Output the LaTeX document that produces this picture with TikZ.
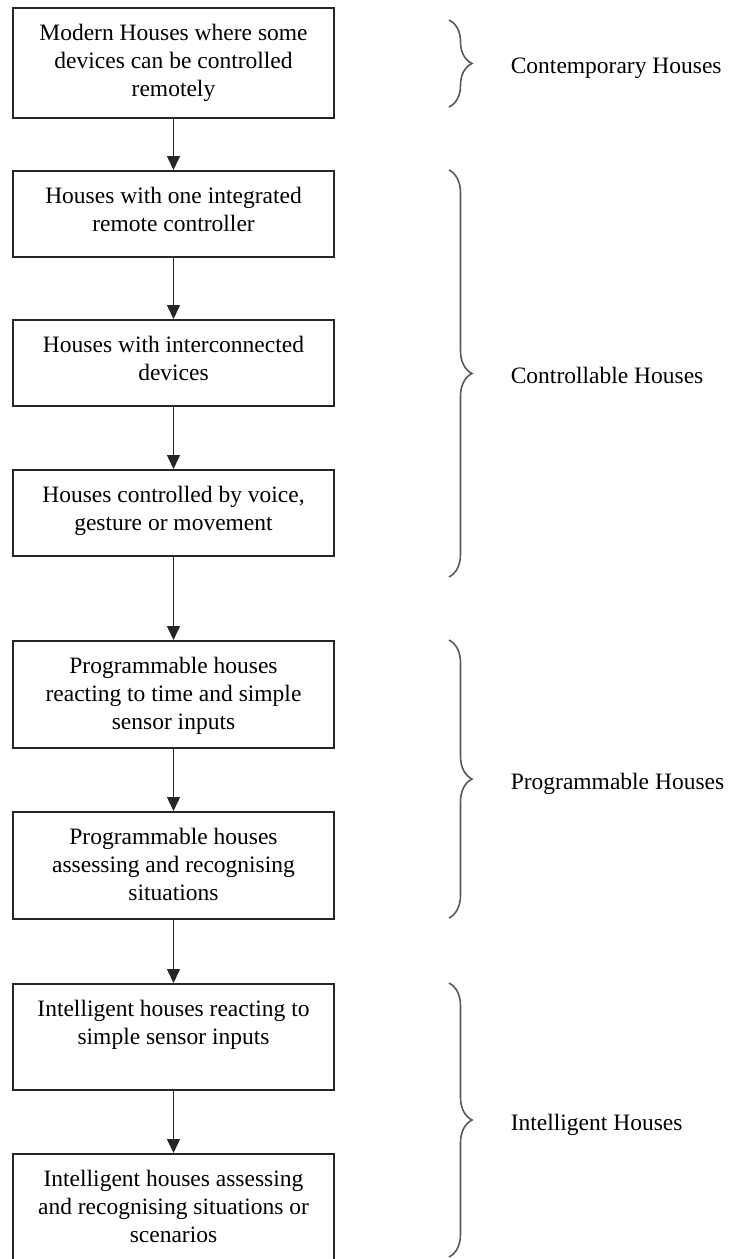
\documentclass[tikz,border=0pt]{standalone}
\usepackage{fontspec}
\setmainfont{Liberation Serif}
\usetikzlibrary{arrows.meta,decorations.pathreplacing}
\newcommand{\stagetext}[2]{\parbox[c][#1][t]{321pt}{\centering\vspace*{16.5pt}#2}}

\begin{document}
\begin{tikzpicture}[x=1pt,y=-1pt,
    stage/.style={rectangle, draw=black!85, line width=1.6pt, inner sep=0pt,
      anchor=north, font=\fontsize{23.5pt}{28pt}\selectfont},
    flow/.style={-{Triangle[length=14pt,width=13pt]}, line width=1.4pt, draw=black!85},
    grpbrace/.style={decorate, decoration={brace, amplitude=23pt},
      line width=1.6pt, draw=black!65},
    grplabel/.style={midway, anchor=base west, inner sep=0pt, xshift=61pt, yshift=-10pt,
      font=\fontsize{23.5pt}{28pt}\selectfont}
    ]
\useasboundingbox (0,0) rectangle (734,1259);

\node[stage] (m1) at (173.5,7) {\stagetext{110pt}{Modern Houses where some\\devices can be controlled\\remotely}};
\node[stage] (m2) at (173.5,170) {\stagetext{86pt}{Houses with one integrated\\remote controller}};
\node[stage] (m3) at (173.5,319) {\stagetext{86pt}{Houses with interconnected\\devices}};
\node[stage] (m4) at (173.5,469) {\stagetext{86pt}{Houses controlled by voice,\\gesture or movement}};
\node[stage] (m5) at (173.5,640) {\stagetext{107pt}{Programmable houses\\reacting to time and simple\\sensor inputs}};
\node[stage] (m6) at (173.5,811) {\stagetext{107pt}{Programmable houses\\assessing and recognising\\situations}};
\node[stage] (m7) at (173.5,983) {\stagetext{106pt}{Intelligent houses reacting to\\simple sensor inputs}};
\node[stage] (m8) at (173.5,1153) {\stagetext{106pt}{Intelligent houses assessing\\and recognising situations or\\scenarios}};

\draw[flow] (m1) -- (m2);
\draw[flow] (m2) -- (m3);
\draw[flow] (m3) -- (m4);
\draw[flow] (m4) -- (m5);
\draw[flow] (m5) -- (m6);
\draw[flow] (m6) -- (m7);
\draw[flow] (m7) -- (m8);

\draw[grpbrace] (449,20) -- (449,107) node[grplabel] (g1) {Contemporary Houses};
\draw[grpbrace] (449,170) -- (449,577) node[grplabel] (g2) {Controllable Houses};
\draw[grpbrace] (449,640) -- (449,918) node[grplabel] (g3) {Programmable Houses};
\draw[grpbrace] (449,983) -- (449,1257) node[grplabel] (g4) {Intelligent Houses};
\end{tikzpicture}
\end{document}
